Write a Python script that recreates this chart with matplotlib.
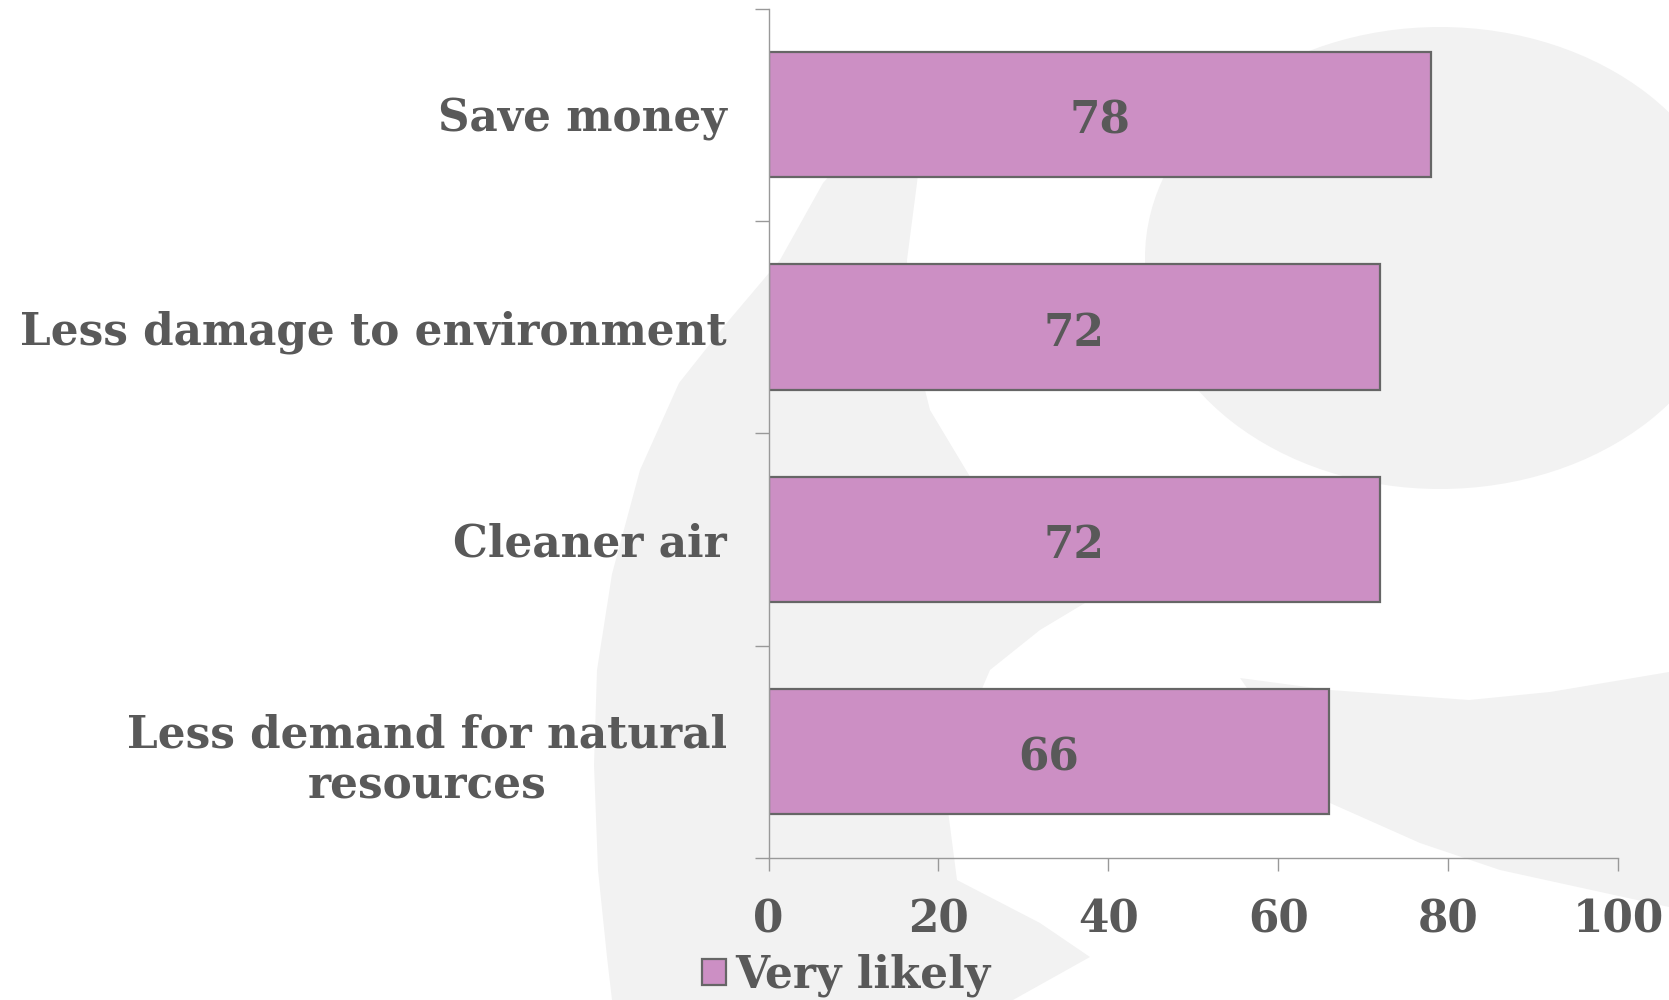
# -*- coding: utf-8 -*-
"""Very likely benefits - horizontal bar chart with light watermark"""
import matplotlib
matplotlib.use('Agg')
import matplotlib.pyplot as plt
from matplotlib.patches import Polygon, Ellipse, Patch

categories = ['Save money', 'Less damage to environment', 'Cleaner air',
              'Less demand for natural\nresources']
very_likely = [78, 72, 72, 66]
x_ticks = [0, 20, 40, 60, 80, 100]
series_name = 'Very likely'

bar_color = '#CC8FC4'
edge_color = '#666666'
text_color = '#595959'
axis_color = '#999999'
mark_color = '#F2F2F2'
font = dict(family=['DejaVu Serif'], weight='bold')
fs = 31.5

W, H = 1669, 1000
fig = plt.figure(figsize=(W / 100, H / 100), dpi=100)

# background watermark (pixel coords, y down)
bg = fig.add_axes([0, 0, 1, 1], zorder=-1)
bg.set_xlim(0, W)
bg.set_ylim(H, 0)
bg.axis('off')
c_shape = [(930, 60), (870, 130), (823, 183), (780, 260), (725, 325), (679, 383),
           (640, 470), (612, 574), (597, 670), (594, 765), (598, 870), (607, 957),
           (612, 1000), (1013, 1000), (1090, 957), (1040, 923), (957, 880),
           (947, 803), (960, 740), (990, 670), (1040, 630), (1090, 600),
           (1040, 560), (990, 510), (960, 460), (930, 410), (910, 330),
           (907, 260), (917, 183)]
band = [(1240, 678), (1330, 690), (1469, 700), (1550, 692), (1669, 672),
        (1669, 907), (1500, 870), (1420, 843), (1330, 803), (1290, 750)]
bg.add_patch(Polygon(c_shape, closed=True, color=mark_color, lw=0))
bg.add_patch(Polygon(band, closed=True, color=mark_color, lw=0))
bg.add_patch(Ellipse((1440, 258), 590, 462, color=mark_color, lw=0))

ax = fig.add_axes([768.5 / W, 1 - 858 / H, (1618 - 768.5) / W, (858 - 8.5) / H])
ax.set_facecolor('none')

pos = list(range(len(categories)))
ax.barh(pos, very_likely, height=0.59, color=bar_color,
        edgecolor=edge_color, linewidth=1.6, label=series_name)
for p, v in zip(pos, very_likely):
    ax.text(v / 2, p + 0.03, str(v), ha='center', va='center', color=text_color,
            fontsize=fs, **font)

ax.set_xlim(0, 100)
ax.set_ylim(len(categories) - 0.5, -0.5)

# category labels at centers, tick marks on boundaries
ax.set_yticks(pos)
ax.set_yticklabels(categories, fontsize=fs, color=text_color,
                   multialignment='center', linespacing=1.25, **font)
ax.tick_params(axis='y', which='major', length=0, pad=30)
ax.set_yticks([b - 0.5 for b in range(len(categories) + 1)], minor=True)
ax.tick_params(axis='y', which='minor', length=10, width=1, color=axis_color)

ax.set_xticks(x_ticks)
ax.set_xticklabels([str(t) for t in x_ticks], fontsize=fs, color=text_color, **font)
ax.tick_params(axis='x', length=9, width=1, color=axis_color, pad=20)

for s in ['top', 'right']:
    ax.spines[s].set_visible(False)
for s in ['left', 'bottom']:
    ax.spines[s].set_color(axis_color)
    ax.spines[s].set_linewidth(1)

handle = Patch(facecolor=bar_color, edgecolor=edge_color, linewidth=1.6)
leg = fig.legend([handle], [series_name], loc='center left',
                 bbox_to_anchor=(702 / W, 1 - 975 / H), frameon=False,
                 prop=dict(size=fs, **font), handlelength=0.55, handleheight=0.55,
                 handletextpad=0.2, borderpad=0, borderaxespad=0)
for t in leg.get_texts():
    t.set_color(text_color)

plt.savefig('out.png', dpi=100)
